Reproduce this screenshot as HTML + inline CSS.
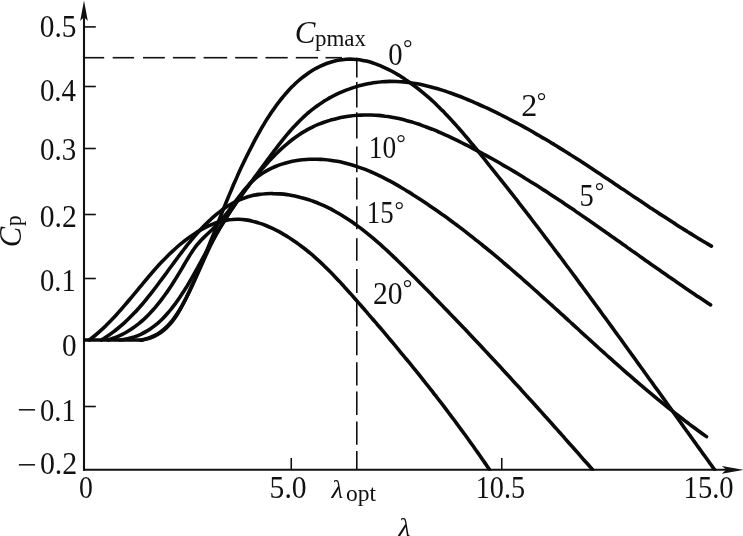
<!DOCTYPE html>
<html><head><meta charset="utf-8"><title>Cp-lambda curves</title>
<style>html,body{margin:0;padding:0;background:#fff;}body{width:743px;height:536px;overflow:hidden;font-family:"Liberation Serif",serif;}svg{display:block;filter:grayscale(1);}</style></head>
<body>
<svg width="743" height="536" viewBox="0 0 743 536">
<defs><clipPath id="cp"><rect x="83" y="0" width="660" height="470.8"/></clipPath></defs>
<rect width="743" height="536" fill="#fff"/>
<g stroke="#111" stroke-width="1.6" fill="none"><line x1="356.8" y1="57.8" x2="356.8" y2="77.4"/><line x1="356.8" y1="81.9" x2="356.8" y2="107.5"/><line x1="356.8" y1="112.2" x2="356.8" y2="138.5"/><line x1="356.8" y1="146.5" x2="356.8" y2="172.3"/><line x1="356.8" y1="177.5" x2="356.8" y2="199.6"/><line x1="356.8" y1="206.2" x2="356.8" y2="229.3"/><line x1="356.8" y1="238.3" x2="356.8" y2="260.7"/><line x1="356.8" y1="268.9" x2="356.8" y2="293.0"/><line x1="356.8" y1="302.5" x2="356.8" y2="326.5"/><line x1="356.8" y1="331.0" x2="356.8" y2="355.3"/><line x1="356.8" y1="362.3" x2="356.8" y2="385.6"/><line x1="356.8" y1="391.6" x2="356.8" y2="415.0"/><line x1="356.8" y1="421.5" x2="356.8" y2="444.8"/><line x1="356.8" y1="450.9" x2="356.8" y2="469.0"/><line x1="84.0" y1="57.7" x2="104.2" y2="57.7"/><line x1="112.7" y1="57.7" x2="134.1" y2="57.7"/><line x1="143.0" y1="57.7" x2="164.8" y2="57.7"/><line x1="172.9" y1="57.7" x2="195.5" y2="57.7"/><line x1="203.6" y1="57.7" x2="227.2" y2="57.7"/><line x1="235.2" y1="57.7" x2="257.4" y2="57.7"/><line x1="265.5" y1="57.7" x2="287.7" y2="57.7"/><line x1="295.8" y1="57.7" x2="318.0" y2="57.7"/><line x1="325.5" y1="57.7" x2="342.0" y2="57.7"/></g>
<g stroke="#111" fill="none"><line x1="84" y1="8" x2="84" y2="470.8" stroke-width="2.1"/><line x1="83" y1="469.8" x2="735" y2="469.8" stroke-width="2.1"/></g>
<path d="M84 0.5 L87.8 21 L84 17 L80.2 21 Z" fill="#111"/>
<path d="M743.5 469.8 L721.8 473.7 L726.3 469.8 L721.8 465.9 Z" fill="#111"/>
<g stroke="#111" stroke-width="1.6" fill="none"><line x1="84" y1="26.9" x2="95.8" y2="26.9"/><line x1="84" y1="86.5" x2="95.8" y2="86.5"/><line x1="84" y1="148.5" x2="95.8" y2="148.5"/><line x1="84" y1="214.5" x2="95.8" y2="214.5"/><line x1="84" y1="278.5" x2="95.8" y2="278.5"/><line x1="84" y1="406.5" x2="95.8" y2="406.5"/><line x1="291.25" y1="458" x2="291.25" y2="469.8"/><line x1="501.75" y1="458" x2="501.75" y2="469.8"/></g>
<g stroke="#0a0a0a" stroke-width="3.6" fill="none" stroke-linecap="round" clip-path="url(#cp)" stroke-linejoin="round"><path d="M84 340 H142"/><path d="M89.4 340.0 C90.3 339.3 93.1 337.1 95.0 335.5 C96.8 334.0 98.6 332.5 100.3 330.9 C102.1 329.3 103.8 327.7 105.5 326.1 C107.2 324.4 108.8 322.8 110.5 321.1 C112.1 319.4 113.7 317.7 115.3 316.0 C116.9 314.2 118.5 312.5 120.0 310.7 C121.6 309.0 123.1 307.2 124.6 305.4 C126.2 303.6 127.7 301.8 129.2 300.0 C130.7 298.2 132.2 296.4 133.7 294.6 C135.3 292.7 136.8 290.9 138.3 289.1 C139.8 287.3 141.3 285.4 142.8 283.6 C144.3 281.8 145.8 280.0 147.4 278.2 C148.9 276.3 150.4 274.5 152.0 272.7 C153.6 270.9 155.1 269.2 156.7 267.4 C158.3 265.6 159.9 263.9 161.6 262.1 C163.2 260.4 164.9 258.7 166.6 257.0 C168.3 255.3 170.0 253.6 171.8 251.9 C173.5 250.3 175.3 248.6 177.1 247.0 C178.9 245.4 180.8 243.9 182.7 242.4 C184.5 240.8 186.5 239.4 188.4 238.0 C190.3 236.5 192.3 235.2 194.3 233.9 C196.3 232.6 198.3 231.3 200.3 230.2 C202.4 229.0 204.4 227.9 206.5 226.9 C208.6 225.9 210.7 225.0 212.8 224.1 C214.9 223.3 217.1 222.6 219.2 221.9 C221.4 221.3 223.6 220.8 225.7 220.4 C227.9 219.9 230.1 219.6 232.3 219.5 C234.6 219.3 236.8 219.2 239.0 219.3 C241.3 219.4 243.5 219.6 245.7 219.9 C248.0 220.2 250.2 220.6 252.5 221.2 C254.7 221.7 257.0 222.3 259.2 223.1 C261.5 223.8 263.7 224.6 265.9 225.5 C268.1 226.4 270.3 227.4 272.5 228.4 C274.7 229.4 276.8 230.5 279.0 231.7 C281.1 232.8 283.2 234.1 285.3 235.3 C287.3 236.6 289.4 237.8 291.4 239.2 C293.4 240.5 295.4 241.9 297.3 243.2 C299.3 244.6 301.2 246.1 303.1 247.5 C305.0 249.0 306.9 250.5 308.7 252.0 C310.5 253.5 312.4 255.0 314.2 256.6 C315.9 258.2 317.7 259.8 319.5 261.4 C321.2 263.0 322.9 264.6 324.6 266.3 C326.4 267.9 328.1 269.6 329.7 271.3 C331.4 273.0 333.1 274.7 334.7 276.4 C336.4 278.1 338.0 279.9 339.6 281.6 C341.2 283.4 342.8 285.1 344.4 286.9 C346.0 288.6 347.6 290.4 349.2 292.2 C350.8 294.0 352.4 295.7 353.9 297.5 C355.5 299.3 357.1 301.1 358.6 302.9 C360.2 304.7 361.7 306.4 363.3 308.2 C364.8 310.0 366.4 311.8 367.9 313.6 C369.5 315.4 371.0 317.2 372.6 319.0 C374.1 320.8 375.7 322.5 377.2 324.3 C378.7 326.1 380.3 327.9 381.8 329.7 C383.3 331.5 384.8 333.3 386.4 335.1 C387.9 336.9 389.4 338.7 390.9 340.5 C392.4 342.3 393.9 344.1 395.4 345.9 C396.9 347.7 398.4 349.5 399.9 351.3 C401.4 353.1 402.9 355.0 404.4 356.8 C405.9 358.6 407.4 360.4 408.9 362.2 C410.4 364.0 411.9 365.9 413.3 367.7 C414.8 369.5 416.3 371.3 417.8 373.2 C419.2 375.0 420.7 376.8 422.2 378.6 C423.6 380.5 425.1 382.3 426.5 384.2 C428.0 386.0 429.5 387.8 430.9 389.7 C432.4 391.5 433.8 393.4 435.2 395.2 C436.7 397.1 438.1 399.0 439.6 400.8 C441.0 402.7 442.4 404.5 443.9 406.4 C445.3 408.3 446.7 410.2 448.1 412.0 C449.5 413.9 451.0 415.8 452.4 417.7 C453.8 419.6 455.2 421.5 456.6 423.4 C458.0 425.3 459.4 427.2 460.8 429.1 C462.2 431.0 463.6 432.9 465.0 434.8 C466.4 436.7 467.8 438.6 469.1 440.5 C470.5 442.5 471.9 444.4 473.3 446.3 C474.7 448.3 476.0 450.2 477.4 452.1 C478.8 454.1 480.1 456.0 481.5 458.0 C482.8 460.0 484.2 461.9 485.6 463.9 C486.9 465.8 488.9 468.8 489.6 469.8"/><path d="M101.5 340.0 C102.5 339.3 105.6 337.4 107.6 336.1 C109.6 334.7 111.5 333.4 113.4 331.9 C115.3 330.5 117.1 329.0 118.9 327.5 C120.8 326.0 122.5 324.5 124.3 322.9 C126.0 321.3 127.7 319.7 129.3 318.1 C131.0 316.4 132.6 314.8 134.2 313.1 C135.9 311.4 137.4 309.6 139.0 307.9 C140.5 306.1 142.1 304.4 143.6 302.6 C145.1 300.8 146.6 299.0 148.0 297.1 C149.5 295.3 151.0 293.5 152.4 291.6 C153.9 289.7 155.3 287.9 156.7 286.0 C158.1 284.1 159.5 282.2 160.9 280.3 C162.4 278.4 163.8 276.5 165.2 274.6 C166.6 272.7 168.0 270.7 169.4 268.8 C170.8 266.9 172.2 265.0 173.6 263.1 C175.0 261.1 176.4 259.2 177.9 257.3 C179.3 255.4 180.7 253.5 182.2 251.6 C183.7 249.7 185.1 247.8 186.6 245.9 C188.1 244.1 189.6 242.2 191.1 240.4 C192.7 238.5 194.2 236.7 195.8 234.9 C197.4 233.1 199.0 231.3 200.6 229.5 C202.3 227.7 203.9 226.0 205.6 224.3 C207.3 222.6 209.0 220.9 210.8 219.3 C212.5 217.7 214.3 216.1 216.1 214.6 C217.9 213.1 219.8 211.7 221.6 210.3 C223.5 208.9 225.4 207.6 227.4 206.3 C229.3 205.1 231.3 203.9 233.3 202.8 C235.3 201.8 237.4 200.8 239.5 199.9 C241.5 199.0 243.7 198.2 245.8 197.5 C248.0 196.7 250.2 196.2 252.4 195.6 C254.6 195.1 256.9 194.7 259.2 194.4 C261.4 194.1 263.7 193.9 266.0 193.7 C268.3 193.6 270.6 193.5 273.0 193.6 C275.3 193.6 277.6 193.7 279.9 193.9 C282.3 194.1 284.6 194.3 286.9 194.6 C289.2 195.0 291.5 195.4 293.8 195.8 C296.1 196.3 298.4 196.8 300.6 197.4 C302.8 197.9 305.1 198.6 307.3 199.3 C309.5 200.0 311.6 200.7 313.8 201.5 C316.0 202.3 318.1 203.2 320.2 204.1 C322.3 205.0 324.4 205.9 326.5 206.9 C328.6 208.0 330.7 209.0 332.7 210.1 C334.7 211.2 336.8 212.3 338.8 213.5 C340.8 214.7 342.8 215.9 344.8 217.2 C346.7 218.4 348.7 219.7 350.7 221.0 C352.6 222.4 354.5 223.7 356.4 225.1 C358.4 226.5 360.3 227.9 362.2 229.4 C364.0 230.8 365.9 232.3 367.8 233.8 C369.6 235.3 371.5 236.9 373.3 238.4 C375.2 240.0 377.0 241.6 378.8 243.2 C380.6 244.7 382.4 246.4 384.2 248.0 C386.0 249.6 387.8 251.3 389.6 252.9 C391.3 254.6 393.1 256.2 394.8 257.9 C396.6 259.6 398.3 261.3 400.1 263.0 C401.8 264.7 403.5 266.4 405.3 268.1 C407.0 269.8 408.7 271.5 410.4 273.2 C412.1 274.9 413.8 276.6 415.5 278.3 C417.2 280.0 418.9 281.7 420.6 283.4 C422.3 285.1 423.9 286.8 425.6 288.5 C427.3 290.2 428.9 291.9 430.6 293.6 C432.3 295.3 433.9 297.0 435.6 298.7 C437.2 300.4 438.9 302.1 440.5 303.8 C442.2 305.5 443.8 307.2 445.4 308.9 C447.1 310.5 448.7 312.2 450.3 313.9 C452.0 315.6 453.6 317.3 455.2 319.0 C456.8 320.7 458.4 322.4 460.0 324.0 C461.6 325.7 463.2 327.4 464.9 329.1 C466.5 330.8 468.1 332.5 469.7 334.2 C471.3 335.9 472.8 337.5 474.4 339.2 C476.0 340.9 477.6 342.6 479.2 344.3 C480.8 346.0 482.4 347.7 484.0 349.4 C485.5 351.1 487.1 352.7 488.7 354.4 C490.3 356.1 491.9 357.8 493.4 359.5 C495.0 361.2 496.6 362.9 498.1 364.6 C499.7 366.3 501.3 368.0 502.8 369.7 C504.4 371.4 506.0 373.1 507.5 374.8 C509.1 376.5 510.7 378.2 512.2 379.9 C513.8 381.6 515.4 383.4 516.9 385.1 C518.5 386.8 520.1 388.5 521.6 390.2 C523.2 391.9 524.7 393.6 526.3 395.4 C527.9 397.1 529.4 398.8 531.0 400.5 C532.6 402.3 534.1 404.0 535.7 405.7 C537.3 407.5 538.8 409.2 540.4 410.9 C541.9 412.7 543.5 414.4 545.1 416.2 C546.7 417.9 548.2 419.7 549.8 421.4 C551.4 423.2 552.9 424.9 554.5 426.7 C556.1 428.5 557.7 430.2 559.2 432.0 C560.8 433.8 562.4 435.5 564.0 437.3 C565.5 439.1 567.1 440.9 568.7 442.7 C570.3 444.4 571.9 446.2 573.5 448.0 C575.1 449.8 576.7 451.6 578.3 453.4 C579.8 455.2 581.4 457.0 583.0 458.9 C584.7 460.7 586.3 462.5 587.9 464.3 C589.5 466.1 591.9 468.9 592.7 469.8"/><path d="M108.0 340.0 C109.1 339.6 112.6 338.5 114.8 337.7 C117.1 336.8 119.2 335.8 121.3 334.8 C123.4 333.8 125.5 332.7 127.5 331.5 C129.5 330.3 131.4 329.1 133.3 327.7 C135.2 326.4 137.0 325.0 138.8 323.6 C140.6 322.1 142.4 320.6 144.1 319.1 C145.8 317.5 147.4 315.9 149.0 314.2 C150.7 312.6 152.2 310.9 153.8 309.1 C155.3 307.4 156.8 305.6 158.3 303.7 C159.8 301.9 161.2 300.0 162.6 298.1 C164.1 296.2 165.4 294.3 166.8 292.4 C168.2 290.4 169.5 288.5 170.8 286.5 C172.1 284.5 173.4 282.5 174.6 280.5 C175.9 278.5 177.2 276.4 178.4 274.4 C179.6 272.4 180.8 270.3 182.0 268.3 C183.2 266.3 184.4 264.2 185.6 262.2 C186.8 260.2 188.0 258.2 189.2 256.2 C190.4 254.3 191.6 252.3 192.9 250.4 C194.3 248.5 195.6 246.7 197.0 244.9 C198.5 243.1 200.0 241.5 201.5 239.8 C203.1 238.1 204.8 236.6 206.4 235.0 C208.1 233.4 209.8 231.8 211.5 230.2 C213.1 228.6 214.8 227.0 216.5 225.3 C218.1 223.6 219.7 221.9 221.2 220.1 C222.8 218.3 224.3 216.5 225.7 214.6 C227.2 212.7 228.6 210.8 230.1 208.8 C231.5 206.9 232.9 204.9 234.3 203.0 C235.8 201.1 237.2 199.1 238.6 197.2 C240.1 195.3 241.5 193.4 243.0 191.5 C244.5 189.7 246.0 187.9 247.6 186.2 C249.1 184.4 250.7 182.7 252.4 181.2 C254.1 179.6 255.9 178.1 257.7 176.7 C259.5 175.3 261.3 174.0 263.3 172.8 C265.2 171.5 267.2 170.4 269.2 169.4 C271.2 168.3 273.3 167.4 275.4 166.5 C277.6 165.6 279.7 164.8 281.9 164.1 C284.1 163.4 286.3 162.8 288.6 162.2 C290.8 161.7 293.1 161.2 295.4 160.8 C297.7 160.4 300.0 160.1 302.3 159.8 C304.6 159.6 307.0 159.4 309.3 159.3 C311.7 159.2 314.0 159.2 316.3 159.2 C318.7 159.2 321.0 159.4 323.3 159.5 C325.6 159.7 327.9 159.9 330.2 160.2 C332.5 160.5 334.8 160.9 337.1 161.3 C339.3 161.7 341.6 162.2 343.8 162.7 C346.1 163.3 348.3 163.9 350.5 164.5 C352.8 165.1 355.0 165.8 357.2 166.6 C359.3 167.3 361.5 168.1 363.7 168.9 C365.9 169.7 368.0 170.6 370.2 171.5 C372.3 172.4 374.5 173.4 376.6 174.4 C378.7 175.4 380.8 176.4 382.9 177.4 C385.1 178.5 387.1 179.6 389.2 180.7 C391.3 181.8 393.4 182.9 395.5 184.1 C397.5 185.3 399.6 186.5 401.6 187.7 C403.7 188.9 405.7 190.1 407.7 191.4 C409.7 192.6 411.7 193.9 413.7 195.2 C415.8 196.4 417.7 197.7 419.7 199.0 C421.7 200.3 423.7 201.6 425.7 203.0 C427.6 204.3 429.6 205.6 431.5 206.9 C433.5 208.3 435.4 209.6 437.4 211.0 C439.3 212.3 441.2 213.7 443.1 215.1 C445.0 216.4 447.0 217.8 448.9 219.2 C450.8 220.6 452.7 222.0 454.5 223.4 C456.4 224.8 458.3 226.2 460.2 227.6 C462.0 229.1 463.9 230.5 465.8 231.9 C467.6 233.4 469.5 234.8 471.3 236.3 C473.2 237.7 475.0 239.2 476.8 240.6 C478.7 242.1 480.5 243.5 482.3 245.0 C484.1 246.5 486.0 248.0 487.8 249.5 C489.6 250.9 491.4 252.4 493.2 253.9 C495.0 255.4 496.8 256.9 498.6 258.4 C500.4 259.9 502.2 261.4 503.9 263.0 C505.7 264.5 507.5 266.0 509.3 267.5 C511.0 269.0 512.8 270.6 514.6 272.1 C516.3 273.6 518.1 275.2 519.9 276.7 C521.6 278.2 523.4 279.8 525.1 281.3 C526.9 282.9 528.6 284.4 530.4 286.0 C532.1 287.5 533.9 289.1 535.6 290.7 C537.4 292.2 539.1 293.8 540.8 295.3 C542.6 296.9 544.3 298.5 546.0 300.0 C547.8 301.6 549.5 303.2 551.2 304.7 C553.0 306.3 554.7 307.9 556.4 309.4 C558.2 311.0 559.9 312.6 561.6 314.2 C563.3 315.7 565.1 317.3 566.8 318.9 C568.5 320.5 570.3 322.0 572.0 323.6 C573.7 325.2 575.4 326.8 577.2 328.3 C578.9 329.9 580.6 331.5 582.3 333.1 C584.1 334.6 585.8 336.2 587.5 337.8 C589.2 339.4 591.0 340.9 592.7 342.5 C594.4 344.1 596.2 345.6 597.9 347.2 C599.6 348.8 601.4 350.3 603.1 351.9 C604.8 353.5 606.6 355.0 608.3 356.6 C610.1 358.2 611.8 359.7 613.6 361.3 C615.3 362.8 617.1 364.4 618.8 365.9 C620.6 367.5 622.3 369.0 624.1 370.6 C625.8 372.1 627.6 373.7 629.4 375.2 C631.1 376.7 632.9 378.3 634.7 379.8 C636.4 381.3 638.2 382.8 640.0 384.4 C641.8 385.9 643.6 387.4 645.3 388.9 C647.1 390.4 648.9 391.9 650.7 393.4 C652.5 394.9 654.3 396.4 656.1 397.9 C657.9 399.4 659.8 400.9 661.6 402.4 C663.4 403.9 665.2 405.3 667.1 406.8 C668.9 408.3 670.7 409.7 672.6 411.2 C674.4 412.6 676.3 414.1 678.1 415.5 C680.0 417.0 681.8 418.4 683.7 419.8 C685.6 421.3 687.5 422.7 689.3 424.1 C691.2 425.5 693.1 426.9 695.0 428.3 C696.9 429.7 698.8 431.1 700.7 432.5 C702.7 433.9 705.5 435.9 706.5 436.6"/><path d="M120.0 340.0 C121.2 339.8 125.0 339.3 127.4 338.8 C129.8 338.3 132.1 337.6 134.3 336.9 C136.5 336.1 138.7 335.2 140.8 334.3 C142.8 333.3 144.8 332.3 146.8 331.1 C148.7 330.0 150.6 328.8 152.4 327.4 C154.2 326.1 155.9 324.7 157.6 323.3 C159.3 321.8 161.0 320.3 162.6 318.7 C164.2 317.1 165.7 315.5 167.2 313.8 C168.7 312.1 170.2 310.3 171.6 308.5 C173.0 306.8 174.4 304.9 175.8 303.1 C177.1 301.2 178.4 299.3 179.7 297.4 C181.0 295.5 182.3 293.6 183.6 291.6 C184.8 289.6 186.0 287.7 187.3 285.7 C188.5 283.7 189.7 281.6 190.8 279.6 C192.0 277.6 193.2 275.5 194.3 273.5 C195.5 271.4 196.6 269.4 197.8 267.3 C198.9 265.2 200.0 263.2 201.2 261.1 C202.3 259.0 203.4 257.0 204.6 254.9 C205.7 252.8 206.8 250.8 208.0 248.7 C209.1 246.7 210.2 244.6 211.4 242.6 C212.6 240.6 213.7 238.6 214.9 236.5 C216.1 234.5 217.2 232.5 218.4 230.5 C219.6 228.5 220.8 226.6 222.1 224.6 C223.3 222.6 224.5 220.6 225.7 218.7 C227.0 216.7 228.2 214.8 229.5 212.8 C230.8 210.9 232.0 209.0 233.3 207.0 C234.6 205.1 235.9 203.2 237.3 201.3 C238.6 199.4 239.9 197.5 241.3 195.6 C242.7 193.7 244.0 191.8 245.4 189.9 C246.8 188.0 248.2 186.2 249.7 184.3 C251.1 182.4 252.6 180.6 254.0 178.7 C255.5 176.9 257.0 175.0 258.5 173.2 C260.0 171.4 261.6 169.5 263.1 167.7 C264.7 165.9 266.3 164.1 267.9 162.4 C269.5 160.6 271.1 158.9 272.8 157.2 C274.4 155.5 276.1 153.8 277.8 152.2 C279.5 150.5 281.2 148.9 283.0 147.3 C284.7 145.8 286.5 144.3 288.3 142.8 C290.1 141.3 292.0 139.9 293.8 138.5 C295.7 137.1 297.6 135.8 299.5 134.5 C301.4 133.2 303.4 132.0 305.4 130.9 C307.4 129.7 309.4 128.6 311.4 127.6 C313.5 126.6 315.5 125.6 317.6 124.7 C319.7 123.8 321.9 123.0 324.0 122.2 C326.1 121.5 328.3 120.8 330.5 120.1 C332.7 119.5 334.9 118.9 337.1 118.4 C339.3 117.9 341.6 117.4 343.8 117.0 C346.1 116.6 348.3 116.3 350.6 116.0 C352.9 115.7 355.2 115.5 357.5 115.3 C359.8 115.2 362.1 115.1 364.4 115.0 C366.7 115.0 369.0 115.0 371.3 115.0 C373.6 115.1 375.9 115.2 378.2 115.4 C380.5 115.6 382.8 115.9 385.1 116.2 C387.4 116.4 389.7 116.8 391.9 117.2 C394.2 117.6 396.5 118.1 398.8 118.6 C401.0 119.1 403.3 119.6 405.5 120.2 C407.8 120.8 410.0 121.5 412.3 122.1 C414.5 122.8 416.7 123.5 419.0 124.3 C421.2 125.1 423.4 125.8 425.6 126.7 C427.8 127.5 430.0 128.4 432.2 129.2 C434.4 130.1 436.6 131.0 438.8 132.0 C441.0 132.9 443.1 133.9 445.3 134.9 C447.5 135.8 449.6 136.8 451.8 137.9 C453.9 138.9 456.0 139.9 458.2 140.9 C460.3 142.0 462.4 143.0 464.5 144.1 C466.7 145.2 468.8 146.3 470.9 147.3 C473.0 148.4 475.1 149.5 477.1 150.6 C479.2 151.7 481.3 152.8 483.4 154.0 C485.4 155.1 487.5 156.2 489.5 157.3 C491.6 158.5 493.6 159.6 495.7 160.8 C497.7 161.9 499.8 163.1 501.8 164.3 C503.8 165.4 505.8 166.6 507.8 167.8 C509.9 169.0 511.9 170.2 513.9 171.4 C515.9 172.6 517.9 173.8 519.9 175.0 C521.9 176.2 523.8 177.4 525.8 178.7 C527.8 179.9 529.8 181.1 531.8 182.4 C533.7 183.6 535.7 184.8 537.7 186.1 C539.6 187.3 541.6 188.6 543.5 189.9 C545.5 191.1 547.4 192.4 549.4 193.7 C551.3 194.9 553.3 196.2 555.2 197.5 C557.1 198.8 559.1 200.1 561.0 201.3 C562.9 202.6 564.9 203.9 566.8 205.2 C568.7 206.5 570.6 207.8 572.6 209.1 C574.5 210.4 576.4 211.8 578.3 213.1 C580.2 214.4 582.1 215.7 584.0 217.0 C586.0 218.3 587.9 219.7 589.8 221.0 C591.7 222.3 593.6 223.6 595.5 225.0 C597.4 226.3 599.3 227.6 601.2 229.0 C603.1 230.3 605.0 231.6 606.9 233.0 C608.8 234.3 610.7 235.7 612.6 237.0 C614.5 238.3 616.4 239.7 618.3 241.0 C620.2 242.4 622.1 243.7 624.0 245.1 C625.9 246.4 627.8 247.8 629.7 249.1 C631.6 250.5 633.5 251.8 635.4 253.1 C637.3 254.5 639.2 255.8 641.1 257.2 C643.0 258.5 644.9 259.9 646.8 261.2 C648.7 262.6 650.6 263.9 652.5 265.3 C654.4 266.6 656.3 267.9 658.3 269.3 C660.2 270.6 662.1 272.0 664.0 273.3 C665.9 274.6 667.8 276.0 669.7 277.3 C671.7 278.6 673.6 280.0 675.5 281.3 C677.4 282.6 679.4 284.0 681.3 285.3 C683.2 286.6 685.2 287.9 687.1 289.2 C689.1 290.6 691.0 291.9 693.0 293.2 C694.9 294.5 696.9 295.8 698.8 297.1 C700.8 298.4 702.7 299.7 704.7 301.0 C706.7 302.3 709.6 304.3 710.6 304.9"/><path d="M141.0 340.2 C142.2 339.9 145.8 339.1 148.1 338.3 C150.3 337.6 152.4 336.6 154.4 335.6 C156.4 334.6 158.3 333.4 160.1 332.2 C161.9 330.9 163.6 329.5 165.2 328.1 C166.8 326.6 168.4 325.1 169.8 323.4 C171.3 321.8 172.7 320.1 174.0 318.3 C175.3 316.5 176.6 314.7 177.8 312.8 C179.0 310.9 180.2 309.0 181.4 307.0 C182.5 305.0 183.6 303.0 184.7 300.9 C185.8 298.9 186.8 296.8 187.9 294.7 C188.9 292.7 189.9 290.6 190.9 288.4 C191.9 286.3 192.9 284.2 193.9 282.0 C194.9 279.9 195.9 277.7 196.8 275.6 C197.8 273.4 198.8 271.2 199.8 269.0 C200.7 266.9 201.7 264.7 202.7 262.5 C203.6 260.4 204.6 258.2 205.6 256.0 C206.6 253.9 207.6 251.7 208.6 249.6 C209.6 247.4 210.6 245.3 211.7 243.2 C212.7 241.1 213.8 239.0 214.9 236.9 C216.0 234.8 217.1 232.8 218.3 230.8 C219.4 228.7 220.6 226.7 221.8 224.7 C223.0 222.7 224.2 220.8 225.4 218.8 C226.7 216.8 227.9 214.9 229.2 213.0 C230.4 211.0 231.7 209.1 233.0 207.2 C234.3 205.3 235.7 203.4 237.0 201.5 C238.3 199.6 239.7 197.7 241.0 195.9 C242.4 194.0 243.7 192.1 245.1 190.2 C246.5 188.3 247.9 186.5 249.3 184.6 C250.6 182.7 252.0 180.8 253.4 179.0 C254.8 177.1 256.2 175.2 257.6 173.3 C259.0 171.4 260.4 169.5 261.8 167.6 C263.2 165.7 264.6 163.8 266.0 161.9 C267.4 159.9 268.8 158.0 270.3 156.1 C271.7 154.2 273.1 152.3 274.5 150.4 C276.0 148.5 277.4 146.6 278.9 144.7 C280.3 142.8 281.8 141.0 283.3 139.1 C284.8 137.3 286.3 135.5 287.8 133.7 C289.4 131.9 290.9 130.1 292.5 128.3 C294.1 126.6 295.7 124.9 297.3 123.2 C298.9 121.5 300.6 119.8 302.3 118.2 C304.0 116.6 305.7 115.1 307.4 113.5 C309.2 112.0 311.0 110.5 312.8 109.1 C314.6 107.7 316.5 106.3 318.4 105.0 C320.3 103.6 322.2 102.4 324.2 101.1 C326.1 99.9 328.1 98.8 330.1 97.6 C332.2 96.5 334.2 95.5 336.3 94.4 C338.4 93.4 340.5 92.5 342.6 91.6 C344.7 90.7 346.9 89.8 349.0 89.1 C351.2 88.3 353.4 87.6 355.6 86.9 C357.8 86.2 360.0 85.6 362.3 85.1 C364.5 84.5 366.8 84.0 369.0 83.6 C371.3 83.2 373.5 82.8 375.8 82.5 C378.1 82.2 380.4 82.0 382.7 81.8 C385.0 81.6 387.3 81.5 389.6 81.4 C391.9 81.4 394.2 81.4 396.5 81.5 C398.8 81.6 401.1 81.7 403.4 81.9 C405.7 82.1 408.0 82.4 410.3 82.7 C412.6 83.0 414.9 83.4 417.2 83.8 C419.5 84.2 421.8 84.7 424.1 85.2 C426.4 85.7 428.7 86.3 431.0 86.9 C433.3 87.5 435.5 88.1 437.8 88.8 C440.1 89.5 442.3 90.2 444.6 90.9 C446.9 91.7 449.1 92.5 451.4 93.3 C453.6 94.1 455.8 94.9 458.1 95.8 C460.3 96.6 462.5 97.5 464.7 98.4 C466.9 99.3 469.1 100.2 471.3 101.1 C473.5 102.1 475.7 103.0 477.9 104.0 C480.0 104.9 482.2 105.9 484.3 106.9 C486.5 107.8 488.6 108.8 490.8 109.9 C492.9 110.9 495.0 111.9 497.1 112.9 C499.2 114.0 501.3 115.0 503.4 116.1 C505.5 117.1 507.6 118.2 509.7 119.3 C511.8 120.4 513.9 121.5 515.9 122.6 C518.0 123.7 520.0 124.8 522.1 125.9 C524.1 127.0 526.2 128.2 528.2 129.3 C530.2 130.4 532.3 131.6 534.3 132.8 C536.3 133.9 538.3 135.1 540.3 136.3 C542.4 137.4 544.4 138.6 546.4 139.8 C548.4 141.0 550.4 142.2 552.3 143.4 C554.3 144.6 556.3 145.9 558.3 147.1 C560.3 148.3 562.3 149.5 564.2 150.8 C566.2 152.0 568.2 153.2 570.1 154.5 C572.1 155.7 574.1 157.0 576.0 158.2 C578.0 159.5 579.9 160.8 581.9 162.0 C583.8 163.3 585.8 164.6 587.7 165.8 C589.7 167.1 591.6 168.4 593.6 169.7 C595.5 171.0 597.4 172.3 599.4 173.5 C601.3 174.8 603.3 176.1 605.2 177.4 C607.1 178.7 609.1 180.0 611.0 181.3 C612.9 182.6 614.9 183.9 616.8 185.2 C618.7 186.5 620.7 187.8 622.6 189.1 C624.6 190.4 626.5 191.7 628.4 193.0 C630.4 194.3 632.3 195.6 634.2 196.9 C636.2 198.2 638.1 199.5 640.1 200.8 C642.0 202.1 643.9 203.4 645.9 204.7 C647.8 206.0 649.8 207.3 651.7 208.6 C653.7 209.9 655.6 211.2 657.6 212.4 C659.5 213.7 661.5 215.0 663.5 216.3 C665.4 217.6 667.4 218.9 669.3 220.1 C671.3 221.4 673.3 222.7 675.3 223.9 C677.2 225.2 679.2 226.5 681.2 227.7 C683.2 229.0 685.2 230.2 687.2 231.5 C689.2 232.7 691.2 234.0 693.2 235.2 C695.2 236.4 697.2 237.6 699.2 238.9 C701.2 240.1 703.3 241.3 705.3 242.5 C707.3 243.7 710.4 245.5 711.4 246.1"/><path d="M141.0 340.2 C142.2 339.9 146.0 339.3 148.3 338.6 C150.6 337.9 152.7 337.0 154.8 336.0 C156.8 335.0 158.7 333.9 160.5 332.7 C162.3 331.4 164.0 330.1 165.7 328.6 C167.3 327.1 168.8 325.6 170.2 323.9 C171.7 322.3 173.0 320.5 174.4 318.7 C175.7 316.9 176.9 315.0 178.1 313.0 C179.3 311.1 180.4 309.1 181.5 307.0 C182.6 305.0 183.7 302.9 184.7 300.8 C185.8 298.7 186.8 296.6 187.8 294.4 C188.8 292.3 189.8 290.1 190.8 287.9 C191.8 285.8 192.8 283.6 193.8 281.4 C194.8 279.2 195.7 277.0 196.7 274.8 C197.6 272.6 198.6 270.4 199.5 268.2 C200.5 266.0 201.4 263.8 202.3 261.6 C203.2 259.4 204.1 257.2 205.1 254.9 C206.0 252.7 206.9 250.5 207.8 248.3 C208.7 246.1 209.6 243.9 210.4 241.7 C211.3 239.5 212.2 237.3 213.1 235.1 C214.0 232.9 214.8 230.7 215.7 228.5 C216.6 226.3 217.4 224.1 218.3 222.0 C219.2 219.8 220.0 217.7 220.9 215.5 C221.7 213.4 222.6 211.2 223.5 209.1 C224.3 207.0 225.2 204.9 226.0 202.7 C226.9 200.6 227.8 198.5 228.6 196.4 C229.5 194.3 230.4 192.2 231.3 190.1 C232.2 188.0 233.0 185.9 233.9 183.8 C234.8 181.8 235.8 179.7 236.7 177.6 C237.6 175.5 238.5 173.4 239.5 171.3 C240.4 169.3 241.4 167.2 242.4 165.1 C243.4 163.0 244.3 160.9 245.4 158.8 C246.4 156.8 247.4 154.7 248.5 152.6 C249.5 150.5 250.6 148.4 251.7 146.3 C252.8 144.2 253.9 142.1 255.0 139.9 C256.1 137.8 257.3 135.7 258.5 133.6 C259.7 131.5 260.9 129.3 262.1 127.2 C263.4 125.1 264.6 123.0 265.9 120.9 C267.2 118.8 268.6 116.8 269.9 114.7 C271.3 112.7 272.6 110.6 274.1 108.6 C275.5 106.6 276.9 104.6 278.4 102.7 C279.8 100.8 281.3 98.9 282.9 97.0 C284.4 95.1 286.0 93.3 287.6 91.5 C289.2 89.7 290.8 88.0 292.5 86.3 C294.2 84.7 295.9 83.0 297.6 81.5 C299.4 79.9 301.1 78.4 303.0 77.0 C304.8 75.6 306.6 74.2 308.5 72.9 C310.4 71.6 312.4 70.4 314.3 69.3 C316.3 68.1 318.3 67.1 320.4 66.1 C322.4 65.2 324.5 64.3 326.6 63.5 C328.7 62.7 330.9 62.0 333.1 61.4 C335.2 60.9 337.4 60.4 339.6 60.0 C341.9 59.6 344.1 59.4 346.3 59.2 C348.5 59.1 350.8 59.1 353.0 59.2 C355.2 59.3 357.5 59.5 359.7 59.8 C361.9 60.2 364.2 60.6 366.4 61.1 C368.6 61.7 370.8 62.3 373.0 63.0 C375.2 63.7 377.4 64.6 379.6 65.4 C381.7 66.3 383.9 67.3 386.0 68.3 C388.2 69.3 390.3 70.4 392.4 71.5 C394.5 72.7 396.5 73.9 398.6 75.1 C400.6 76.4 402.6 77.6 404.6 78.9 C406.6 80.3 408.6 81.6 410.5 83.0 C412.4 84.4 414.3 85.8 416.2 87.2 C418.1 88.6 419.9 90.1 421.7 91.6 C423.5 93.1 425.3 94.6 427.1 96.1 C428.9 97.7 430.6 99.2 432.4 100.8 C434.1 102.4 435.8 104.0 437.5 105.7 C439.2 107.3 440.8 109.0 442.5 110.6 C444.1 112.3 445.8 114.0 447.4 115.7 C449.0 117.4 450.6 119.1 452.2 120.9 C453.8 122.6 455.4 124.3 456.9 126.1 C458.5 127.9 460.0 129.7 461.6 131.4 C463.1 133.2 464.6 135.0 466.1 136.8 C467.7 138.6 469.2 140.4 470.7 142.3 C472.2 144.1 473.7 145.9 475.2 147.7 C476.7 149.6 478.1 151.4 479.6 153.2 C481.1 155.1 482.6 156.9 484.1 158.7 C485.6 160.6 487.0 162.4 488.5 164.3 C490.0 166.1 491.4 167.9 492.9 169.8 C494.4 171.6 495.9 173.5 497.3 175.3 C498.8 177.1 500.2 179.0 501.7 180.8 C503.2 182.7 504.6 184.5 506.1 186.4 C507.5 188.2 509.0 190.1 510.4 191.9 C511.9 193.8 513.3 195.6 514.8 197.5 C516.2 199.3 517.7 201.2 519.1 203.1 C520.5 204.9 522.0 206.8 523.4 208.6 C524.9 210.5 526.3 212.3 527.7 214.2 C529.2 216.1 530.6 217.9 532.0 219.8 C533.4 221.7 534.9 223.5 536.3 225.4 C537.7 227.2 539.1 229.1 540.6 231.0 C542.0 232.8 543.4 234.7 544.8 236.6 C546.2 238.4 547.7 240.3 549.1 242.2 C550.5 244.1 551.9 245.9 553.3 247.8 C554.7 249.7 556.1 251.5 557.5 253.4 C558.9 255.3 560.4 257.2 561.8 259.0 C563.2 260.9 564.6 262.8 566.0 264.7 C567.4 266.6 568.8 268.4 570.2 270.3 C571.6 272.2 573.0 274.1 574.4 275.9 C575.8 277.8 577.2 279.7 578.5 281.6 C579.9 283.5 581.3 285.4 582.7 287.2 C584.1 289.1 585.5 291.0 586.9 292.9 C588.3 294.8 589.7 296.7 591.1 298.6 C592.5 300.4 593.8 302.3 595.2 304.2 C596.6 306.1 598.0 308.0 599.4 309.9 C600.8 311.8 602.1 313.7 603.5 315.6 C604.9 317.4 606.3 319.3 607.7 321.2 C609.0 323.1 610.4 325.0 611.8 326.9 C613.2 328.8 614.5 330.7 615.9 332.6 C617.3 334.5 618.7 336.4 620.1 338.3 C621.4 340.2 622.8 342.1 624.2 344.0 C625.5 345.9 626.9 347.8 628.3 349.7 C629.7 351.6 631.0 353.5 632.4 355.4 C633.8 357.3 635.2 359.2 636.5 361.1 C637.9 363.0 639.3 364.9 640.6 366.8 C642.0 368.7 643.4 370.6 644.7 372.5 C646.1 374.4 647.5 376.3 648.8 378.2 C650.2 380.1 651.6 382.0 653.0 383.9 C654.3 385.8 655.7 387.7 657.1 389.6 C658.4 391.5 659.8 393.4 661.2 395.3 C662.5 397.2 663.9 399.1 665.3 401.0 C666.6 403.0 668.0 404.9 669.4 406.8 C670.7 408.7 672.1 410.6 673.5 412.5 C674.8 414.4 676.2 416.3 677.6 418.2 C678.9 420.1 680.3 422.0 681.7 423.9 C683.0 425.8 684.4 427.8 685.8 429.7 C687.2 431.6 688.5 433.5 689.9 435.4 C691.3 437.3 692.6 439.2 694.0 441.1 C695.4 443.0 696.7 445.0 698.1 446.9 C699.5 448.8 700.9 450.7 702.2 452.6 C703.6 454.5 705.0 456.4 706.4 458.3 C707.7 460.2 709.1 462.2 710.5 464.1 C711.8 466.0 713.9 468.8 714.6 469.8"/></g>
<g font-family="'Liberation Serif', serif" fill="#111"><text transform="translate(39.80 36.50) scale(0.9557 1)" font-size="30.7">0.5</text><text transform="translate(39.92 100.50) scale(0.9412 1)" font-size="30.7">0.4</text><text transform="translate(39.91 159.80) scale(0.9446 1)" font-size="30.7">0.3</text><text transform="translate(39.79 226.80) scale(0.9652 1)" font-size="30.7">0.2</text><text transform="translate(39.93 290.90) scale(0.9327 1)" font-size="30.7">0.1</text><text transform="translate(62.11 356.00) scale(0.9504 1)" font-size="30.7">0</text><text transform="translate(39.93 421.00) scale(0.9327 1)" font-size="30.7">0.1</text><text transform="translate(39.88 474.00) scale(0.9737 1)" font-size="30.7">0.2</text><text transform="translate(78.96 497.80) scale(0.9044 1)" font-size="30.7">0</text><text transform="translate(269.60 497.90) scale(0.9645 1)" font-size="30.7">5.0</text><text transform="translate(475.73 498.10) scale(0.9195 1)" font-size="30.7">10.5</text><text transform="translate(683.60 498.10) scale(0.9321 1)" font-size="30.7">15.0</text><text transform="translate(388.32 65.20) scale(0.9350 1)" font-size="30.7">0</text><text transform="translate(521.14 115.60) scale(1.0440 1)" font-size="30.7">2</text><text transform="translate(579.56 205.60) scale(0.9307 1)" font-size="30.7">5</text><text transform="translate(368.80 157.60) scale(0.8934 1)" font-size="30.7">10</text><text transform="translate(366.75 222.90) scale(0.8736 1)" font-size="30.7">15</text><text transform="translate(373.04 304.00) scale(0.9630 1)" font-size="30.7">20</text><text transform="translate(331.57 498.20) scale(1.0356 1)" font-size="25.9" font-style="italic">λ</text><text transform="translate(346.02 501.00) scale(0.9784 1)" font-size="24.0">opt</text><text transform="translate(398.59 535.70) scale(1.0623 1)" font-size="25.9" font-style="italic">λ</text><text transform="translate(294.69 43.40) scale(0.9843 1)" font-size="31.5" font-style="italic">C</text><text transform="translate(314.95 46.10) scale(0.9586 1)" font-size="24.0">pmax</text><text transform="translate(21.20 247.18) rotate(-90) scale(0.9690 1)" font-size="31.5" font-style="italic">C</text><text transform="translate(21.30 225.91) rotate(-90) scale(0.8708 1)" font-size="24.0">p</text></g>
<g font-family="'Liberation Serif', serif" fill="#111"><text transform="translate(16.96 420.41) scale(1.1348 1)" font-size="30.7">−</text><text transform="translate(16.96 474.81) scale(1.1348 1)" font-size="30.7">−</text><text x="402.94" y="56.43" font-size="23.8">°</text><text x="536.64" y="109.43" font-size="23.8">°</text><text x="594.74" y="199.23" font-size="23.8">°</text><text x="396.24" y="150.73" font-size="23.8">°</text><text x="394.54" y="217.73" font-size="23.8">°</text><text x="402.84" y="296.03" font-size="23.8">°</text></g>
</svg>
</body></html>
